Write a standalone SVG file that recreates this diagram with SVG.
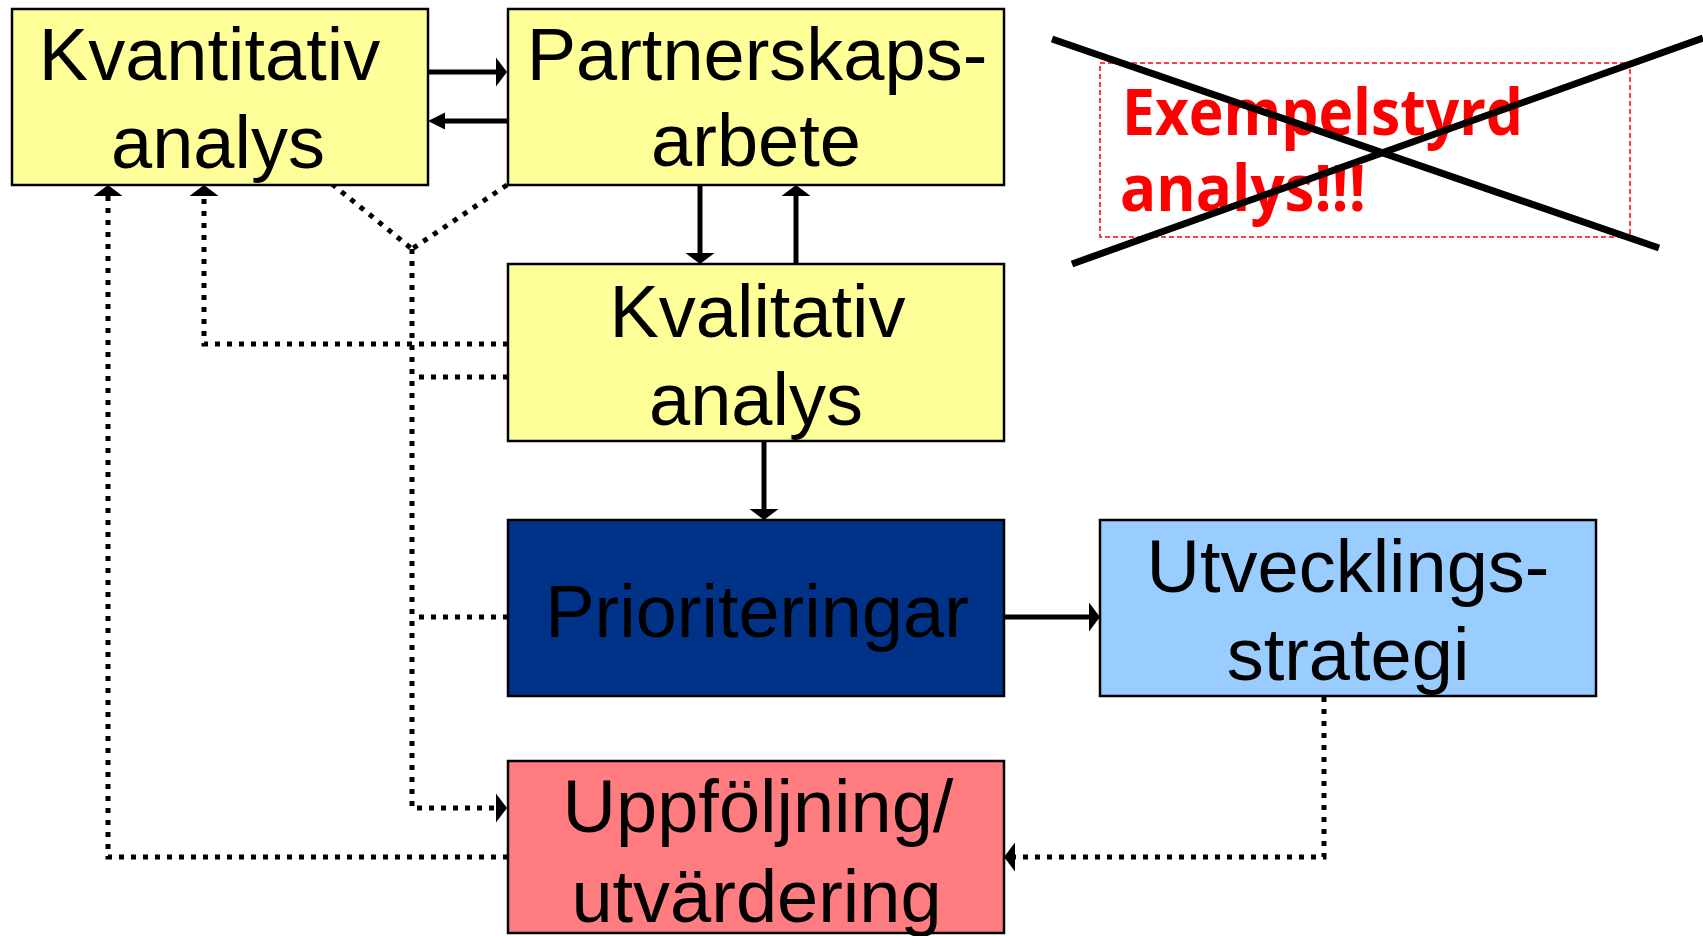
<svg xmlns="http://www.w3.org/2000/svg" width="1703" height="936" viewBox="0 0 1703 936">
  <defs>
    <style>
      .box { stroke: #000; stroke-width: 2.5; }
      .lbl { font-family: "Liberation Sans", Arial, sans-serif; font-size: 74px; fill: #000; text-anchor: middle; }
      .solid { fill: none; stroke: #000; stroke-width: 5; }
      .dot { fill: none; stroke: #000; stroke-width: 5; stroke-dasharray: 5 7; }
      .warn { font-family: "Open Sans", "Liberation Sans", sans-serif; font-weight: 700; font-size: 64px; fill: #FF0000; }
    </style>
    <marker id="ah" markerUnits="userSpaceOnUse" markerWidth="12" markerHeight="30" refX="0" refY="14.5" orient="auto" overflow="visible">
      <path d="M0,0 L11,14.5 L0,29 Z" fill="#000"/>
    </marker>
    <marker id="ahs" markerUnits="userSpaceOnUse" markerWidth="18" markerHeight="18" refX="0" refY="8.5" orient="auto" overflow="visible">
      <path d="M0,0 L17,8.5 L0,17 Z" fill="#000"/>
    </marker>
  </defs>
  <rect width="1703" height="936" fill="#fff"/>

  <g id="connectors">
    <path class="solid" d="M428,72 H496" marker-end="url(#ah)"/>
    <path class="solid" d="M507,121 H445" marker-end="url(#ahs)"/>
    <path class="solid" d="M700,185 V253" marker-end="url(#ah)"/>
    <path class="solid" d="M796,264 V196" marker-end="url(#ah)"/>
    <path class="solid" d="M764,441 V509" marker-end="url(#ah)"/>
    <path class="solid" d="M1004,617 H1089" marker-end="url(#ah)"/>

    <path class="dot" d="M508,857 H108 V196" marker-end="url(#ah)"/>
    <path class="dot" d="M508,344 H204 V196" marker-end="url(#ah)"/>
    <path class="dot" d="M412,249 V808 H496" marker-end="url(#ah)"/>
    <path class="dot" d="M508,377 H412"/>
    <path class="dot" d="M508,617 H412"/>
    <path class="dot" d="M332,184 L412,249"/>
    <path class="dot" d="M507,185 L412,249"/>
    <path class="dot" d="M1324,697 V857 H1015" marker-end="url(#ah)"/>
  </g>

  <g id="kvantitativ">
    <rect class="box" x="12" y="9" width="416" height="176" fill="#FFFF99"/>
    <text class="lbl" x="209.5" y="80">Kvantitativ</text>
    <text class="lbl" x="218" y="168">analys</text>
  </g>

  <g id="partnerskap">
    <rect class="box" x="508" y="9" width="496" height="176" fill="#FFFF99"/>
    <text class="lbl" x="757" y="80">Partnerskaps-</text>
    <text class="lbl" x="756" y="166">arbete</text>
  </g>

  <g id="kvalitativ">
    <rect class="box" x="508" y="264" width="496" height="177" fill="#FFFF99"/>
    <text class="lbl" x="757.5" y="337">Kvalitativ</text>
    <text class="lbl" x="756" y="425">analys</text>
  </g>

  <g id="prioriteringar">
    <rect class="box" x="508" y="520" width="496" height="176" fill="#003388"/>
    <text class="lbl" x="757" y="637">Prioriteringar</text>
  </g>

  <g id="utvecklingsstrategi">
    <rect class="box" x="1100" y="520" width="496" height="176" fill="#99CCFF"/>
    <text class="lbl" x="1348" y="592">Utvecklings-</text>
    <text class="lbl" x="1348" y="680">strategi</text>
  </g>

  <g id="uppfoljning">
    <rect class="box" x="508" y="761" width="496" height="172" fill="#FF7C80"/>
    <text class="lbl" x="758" y="832">Uppföljning/</text>
    <text class="lbl" x="756.5" y="922">utvärdering</text>
  </g>

  <g id="exempelstyrd">
    <rect x="1100" y="63" width="530" height="174" fill="none" stroke="#FF0000" stroke-width="1.5" stroke-dasharray="5 3"/>
    <text class="warn" x="1122" y="135" textLength="401" lengthAdjust="spacingAndGlyphs">Exempelstyrd</text>
    <text class="warn" x="1120" y="211" textLength="246" lengthAdjust="spacingAndGlyphs">analys!!!</text>
    <line x1="1052" y1="39" x2="1659" y2="248" stroke="#000" stroke-width="7"/>
    <line x1="1072" y1="264" x2="1703" y2="38" stroke="#000" stroke-width="7"/>
  </g>
</svg>
